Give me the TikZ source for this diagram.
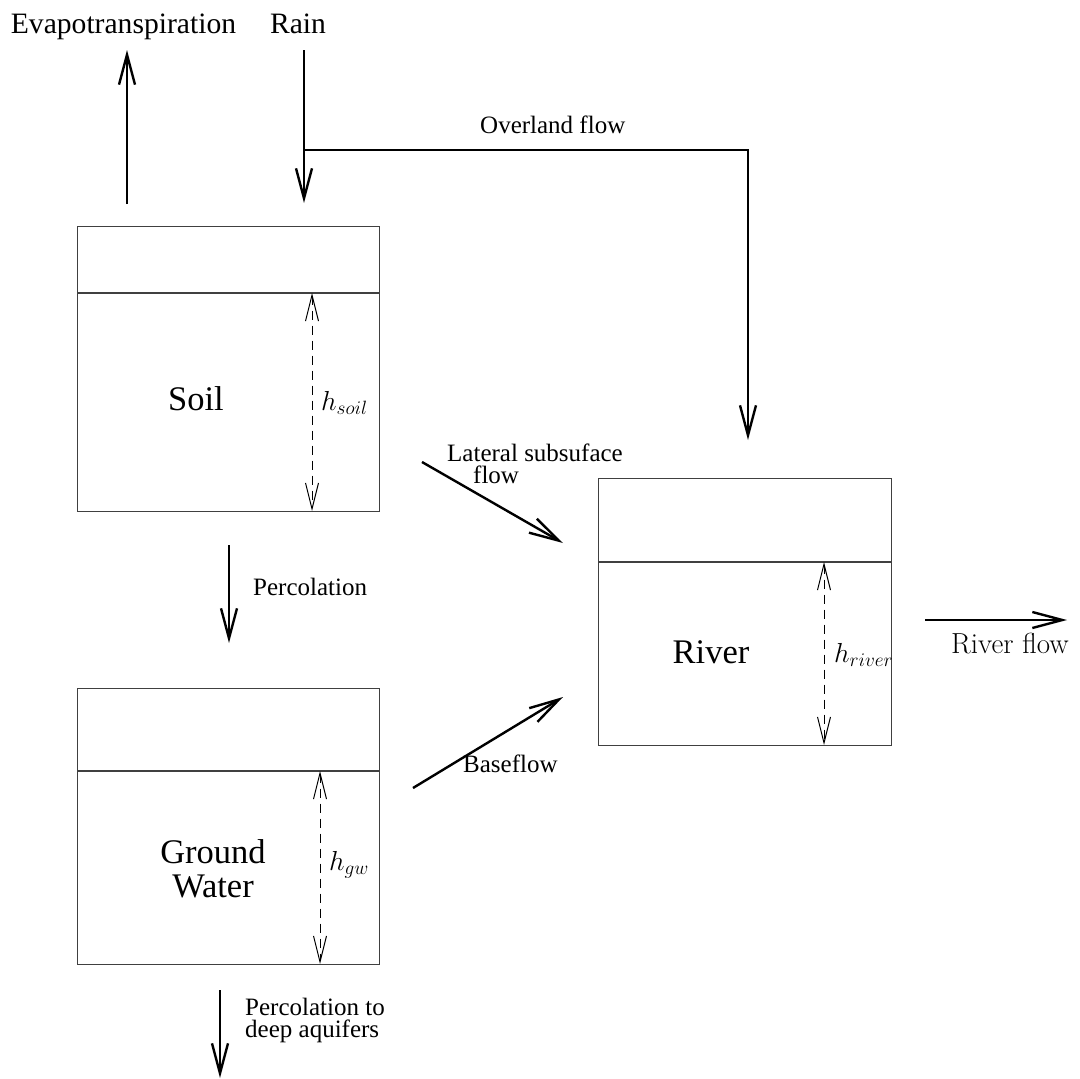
\RequirePackage{fix-cm}
\documentclass[tikz,border=0pt]{standalone}
\usepackage{fontspec}
\setmainfont{Liberation Serif}
\newfontfamily\tms{Liberation Serif}
\newfontfamily\lmr{Latin Modern Roman}
\usetikzlibrary{arrows.meta}
\tikzset{
  tank/.style={draw=black!75, line width=1.3pt, inner sep=0pt, anchor=north west},
  divider/.style={draw=black!75, line width=1.3pt},
  flow/.style={line width=2.4pt, -{Straight Barb[length=30pt,width=16pt]}},
  level/.style={line width=1pt, dash pattern=on 9pt off 6pt,
     {Straight Barb[length=26pt,width=13pt,line width=1pt]}-{Straight Barb[length=26pt,width=13pt,line width=1pt]}},
  bigtxt/.style={inner sep=0pt, font=\tms\fontsize{29.6}{34}\selectfont},
  smalltxt/.style={inner sep=0pt, font=\tms\fontsize{25}{22}\selectfont},
  tanktxt/.style={inner sep=0pt, font=\tms\fontsize{34.5}{34}\selectfont, align=center},
  mathtxt/.style={inner sep=0pt, font=\fontsize{27.5}{30}\selectfont}
}
\begin{document}
\begin{tikzpicture}[x=1pt,y=-1pt]
\useasboundingbox (0,0) rectangle (1080,1079);

% tanks
\node[tank, minimum width=302pt, minimum height=285pt] (soil) at (77,226) {};
\node[tank, minimum width=302pt, minimum height=276pt] (gw) at (77,688) {};
\node[tank, minimum width=293pt, minimum height=267pt] (river) at (598,478) {};
\draw[divider] ([yshift=-67pt]soil.north west) -- ([yshift=-67pt]soil.north east);
\draw[divider] ([yshift=-83pt]gw.north west) -- ([yshift=-83pt]gw.north east);
\draw[divider] ([yshift=-84pt]river.north west) -- ([yshift=-84pt]river.north east);

% tank labels
\node[tanktxt, anchor=base] (soillab) at (196,410) {Soil};
\node[tanktxt, anchor=base] (riverlab) at (711,663) {River};
\node[tanktxt, anchor=base] (gwlab) at (213,897) {Ground\\Water};

% level arrows
\coordinate (sltop) at (312,293); \coordinate (slbot) at (312,511);
\coordinate (gltop) at (320,771); \coordinate (glbot) at (320,964);
\coordinate (rltop) at (824,562); \coordinate (rlbot) at (824,745);
\draw[level] (sltop) -- (slbot);
\draw[level] (gltop) -- (glbot);
\draw[level] (rltop) -- (rlbot);
\node[mathtxt, anchor=base west] (hsoil) at (321,410) {$h_{soil}$};
\node[mathtxt, anchor=base west] (hgw) at (329,870) {$h_{gw}$};
\node[mathtxt, anchor=base west] (hriver) at (834,662) {$h_{river}$};

% top labels
\node[bigtxt, anchor=base] (evap) at (123.5,33) {Evapotranspiration};
\node[bigtxt, anchor=base] (rain) at (298,33) {Rain};

% evapotranspiration
\coordinate (evs) at (127,204); \coordinate (eve) at (127,50);
\draw[flow] (evs) -- (eve);
% rain
\coordinate (rs) at (304,50); \coordinate (re) at (304,203);
\coordinate (ov) at (304,150); \coordinate (ovc) at (748,150); \coordinate (ove) at (748,440);
\draw[flow] (rs) -- (re);
\draw[flow] (ov) -- (ovc) -- (ove);
\node[smalltxt, anchor=base west] (ovlab) at (480,133) {Overland flow};

% lateral
\coordinate (ls) at (422,462); \coordinate (le) at (563,543);
\draw[flow] (ls) -- (le);
\node[smalltxt, anchor=base west, align=left] (latlab) at (447,483) {Lateral subsuface\\\hspace*{26pt}flow};

% percolation
\coordinate (ps) at (229,545); \coordinate (pe) at (229,643);
\draw[flow] (ps) -- (pe);
\node[smalltxt, anchor=base west] (perclab) at (253,595) {Percolation};

% baseflow
\coordinate (bs) at (413,788); \coordinate (be) at (563,697);
\draw[flow] (bs) -- (be);
\node[smalltxt, anchor=base west] (baselab) at (463,772) {Baseflow};

% river flow
\coordinate (rfs) at (925,620); \coordinate (rfe) at (1067,620);
\draw[flow] (rfs) -- (rfe);
\node[inner sep=0pt, anchor=base west, font=\lmr\fontsize{29}{30}\selectfont] (rflab) at (951,653) {River flow};

% deep percolation
\coordinate (ds) at (220,990); \coordinate (de) at (220,1078);
\draw[flow] (ds) -- (de);
\node[smalltxt, anchor=base west, align=left] (deeplab) at (245,1037) {Percolation to\\deep aquifers};
\end{tikzpicture}
\end{document}
